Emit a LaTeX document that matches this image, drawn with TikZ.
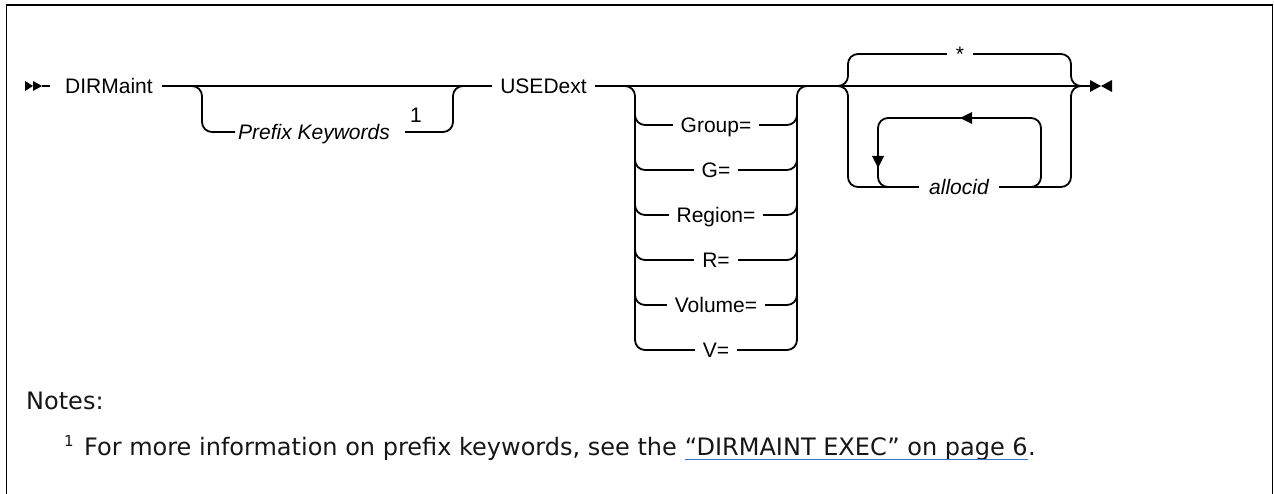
\documentclass[tikz,border=0pt]{standalone}
\usepackage{fontspec}
\setmainfont{Liberation Sans}
\newfontfamily\diagfont{Liberation Sans}
\newfontfamily\notefont{DejaVu Sans}
\definecolor{linkblue}{HTML}{3B73C4}
\definecolor{ink}{HTML}{161616}
\begin{document}
\begin{tikzpicture}[x=1pt,y=-1pt,
  rr/.style={line width=1.8pt, rounded corners=10pt},
  ln/.style={line width=1.8pt},
  kw/.style={anchor=base, inner sep=0pt, font=\diagfont\fontsize{21}{25}\selectfont},
  kwf/.style={kw, fill=white, inner xsep=8pt},
  var/.style={kwf, font=\diagfont\fontsize{21}{25}\selectfont\itshape},
  note/.style={anchor=base west, inner sep=0pt, text=ink, font=\notefont\fontsize{24}{28}\selectfont},
  frame/.style={line width=1.6pt}
]
\useasboundingbox (0,0) rectangle (1274,494);
% frame
\draw[frame] (6.5,494) -- (6.5,5) -- (1272.5,5) -- (1272.5,494);

% start marker
\coordinate (s0) at (42,86);
\fill (25,81) -- (33,86) -- (25,91) -- cycle;
\fill (33,81) -- (42,86) -- (33,91) -- cycle;
\coordinate (s1) at (50,86);
\draw[ln] (s0) -- (s1);

% keywords on main line
\node[kw] (dir) at (109,93.5) {DIRMaint};
\node[kw] (used) at (543.5,93.5) {USEDext};

\coordinate (m1) at (162,86);
\coordinate (m2) at (492,86);
\draw[ln] (m1) -- (m2);
\coordinate (m3) at (595,86);
\coordinate (m4) at (1090,86);
\draw[ln] (m3) -- (m4);

% prefix keywords branch
\coordinate (pa) at (235,132);
\coordinate (pb) at (405,132);
\draw[rr] (192,86) -- (202,86) -- (202,132) -- (pa);
\draw[rr] (pb) -- (453,132) -- (453,86) -- (463,86);
\node[var, fill=none, inner xsep=0pt] (pk) at (314,139.5) {Prefix Keywords};
\node[kw] (fn1) at (416,123) {1};

% group branch
\draw[rr] (625,86) -- (635,86) -- (635,350) -- (797,350) -- (797,86) -- (807,86);
\foreach \y in {125,170,215,260,305}{
  \draw[rr] (635,\y-25) -- (635,\y) -- (797,\y) -- (797,\y-25);
}
\node[kwf] (g1) at (716,132.5) {Group=};
\node[kwf] (g2) at (716,177.5) {G=};
\node[kwf] (g3) at (716,222.5) {Region=};
\node[kwf] (g4) at (716,267.5) {R=};
\node[kwf] (g5) at (716,312.5) {Volume=};
\node[kwf] (g6) at (716,357.5) {V=};

% repeat branch
\draw[rr] (838,86) -- (848,86) -- (848,54) -- (1071,54) -- (1071,86) -- (1081,86);
\draw[rr] (838,86) -- (848,86) -- (848,187) -- (1071,187) -- (1071,86) -- (1081,86);
\draw[rr] (1031,187) -- (1041,187) -- (1041,118) -- (878,118) -- (878,187) -- (888,187);
\fill (960,118) -- (972,112) -- (972,124) -- cycle;
\fill (878,168) -- (872,156) -- (884,156) -- cycle;
\node[kwf, minimum width=26pt] (star) at (960,61.5) {*};
\node[var, inner xsep=10pt] (alloc) at (959,194.5) {allocid};

% end marker
\fill (1090,80) -- (1101,86) -- (1090,92) -- cycle;
\fill (1112,80) -- (1101,86) -- (1112,92) -- cycle;

% notes
\node[note] (notes) at (26,409) {Notes:};
\node[note, font=\notefont\fontsize{15}{18}\selectfont] (sup) at (64,446) {1};
\node[note] (foot1) at (84,455) {For more information on prefix keywords, see the};
\node[note] (link) at ([xshift=7.6pt]foot1.base east) {“DIRMAINT EXEC” on page 6};
\node[note] (dot) at (link.base east) {.};
\draw[linkblue, line width=1.1pt] ([yshift=-4.5pt]link.base west) -- ([yshift=-4.5pt]link.base east);
\end{tikzpicture}
\end{document}
